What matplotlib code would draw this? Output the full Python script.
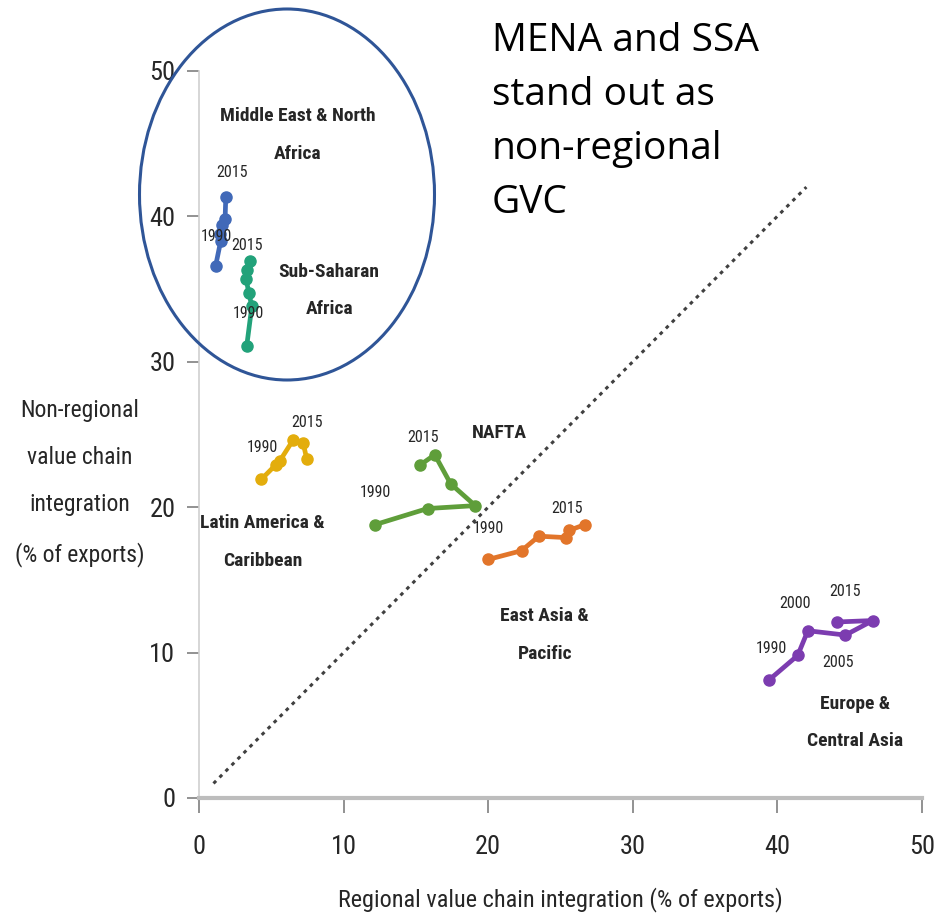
import matplotlib
matplotlib.use("Agg")
import matplotlib.pyplot as plt
from matplotlib.patches import Ellipse

narrow = ["Liberation Sans Narrow", "Roboto Condensed", "Open Sans Condensed",
          "Roboto", "DejaVu Sans"]
plt.rcParams["font.family"] = narrow

# regional vs non-regional value chain integration, 1990 -> 2015
mena_x = [1.15, 1.5, 1.45, 1.6, 1.8, 1.85]
mena_y = [36.6, 38.3, 38.8, 39.4, 39.8, 41.3]

ssa_x = [3.3, 3.65, 3.45, 3.25, 3.35, 3.55]
ssa_y = [31.1, 33.8, 34.7, 35.7, 36.3, 36.9]

lac_x = [4.3, 5.3, 5.6, 6.5, 7.2, 7.45]
lac_y = [21.9, 22.9, 23.2, 24.6, 24.4, 23.3]

nafta_x = [12.2, 15.8, 19.1, 17.4, 16.3, 15.3]
nafta_y = [18.8, 19.9, 20.1, 21.6, 23.6, 22.9]

eap_x = [20.0, 22.3, 23.5, 25.4, 25.6, 26.7]
eap_y = [16.4, 17.0, 18.0, 17.9, 18.4, 18.8]

eca_x = [39.4, 41.4, 42.1, 44.7, 46.6, 44.1]
eca_y = [8.1, 9.8, 11.5, 11.2, 12.2, 12.1]

diag = [1, 42]

series = [
    (mena_x, mena_y, "#4169b8"),
    (ssa_x, ssa_y, "#22a27a"),
    (lac_x, lac_y, "#e3ad0c"),
    (nafta_x, nafta_y, "#5f9e3a"),
    (eap_x, eap_y, "#e2752a"),
    (eca_x, eca_y, "#7c3cb0"),
]

region_labels = [
    ("Middle East & North\nAfrica", 6.85, 45.6),
    ("Sub-Saharan\nAfrica", 9.0, 34.9),
    ("NAFTA", 20.8, 25.1),
    ("Latin America &\nCaribbean", 4.4, 17.6),
    ("East Asia &\nPacific", 23.9, 11.2),
    ("Europe &\nCentral Asia", 45.4, 5.2),
]

year_labels = [
    ("2015", 2.3, 43.0), ("1990", 1.2, 38.6),
    ("2015", 3.3, 38.0), ("1990", 3.4, 33.3),
    ("1990", 4.4, 24.1), ("2015", 7.5, 25.8),
    ("1990", 12.2, 21.0), ("2015", 15.5, 24.8),
    ("1990", 20.0, 18.5), ("2015", 25.45, 19.9),
    ("1990", 39.6, 10.3), ("2000", 41.2, 13.4),
    ("2015", 44.7, 14.2), ("2005", 44.2, 9.3),
]

fig = plt.figure(figsize=(9.38, 9.22), dpi=100)
ax = fig.add_axes([0.2122, 0.1345, 0.7708, 0.7888])

ax.plot(diag, diag, color="#404040", lw=2.2, linestyle=(0, (1.2, 1.6)))

for xs, ys, c in series:
    ax.plot(xs, ys, color=c, lw=3.4, marker="o", markersize=8, solid_capstyle="round")

for txt, x, y in region_labels:
    ax.text(x, y, txt, ha="center", va="center", fontsize=14, fontweight="bold",
            color="#262626", linespacing=2.4)

for txt, x, y in year_labels:
    ax.text(x, y, txt, ha="center", va="center", fontsize=11.5, color="#262626")

ax.set_xlim(0, 50)
ax.set_ylim(0, 50)
ax.set_xticks(range(0, 51, 10))
ax.set_yticks(range(0, 51, 10))
ax.tick_params(axis="both", labelsize=19, colors="#262626")
ax.tick_params(axis="x", length=11, width=1.2, color="#7f7f7f", pad=16)
ax.tick_params(axis="y", length=9, width=1.2, color="#7f7f7f", pad=8)

for s in ["top", "right"]:
    ax.spines[s].set_visible(False)
ax.spines["left"].set_color("#d0d0d0")
ax.spines["left"].set_linewidth(1.2)
ax.spines["bottom"].set_color("#bdbdbd")
ax.spines["bottom"].set_linewidth(3)

ax.set_xlabel("Regional value chain integration (% of exports)", fontsize=17.5,
              color="#262626", labelpad=20)
fig.text(0.085, 1 - 483 / 922, "Non-regional\nvalue chain\nintegration\n(% of exports)",
         ha="center", va="center", fontsize=17, color="#262626", linespacing=2.35)

# highlight ring around the two African regions
ring = Ellipse((287 / 938, 1 - 194.5 / 922), 295 / 938, 371 / 922,
               transform=fig.transFigure, fill=False, edgecolor="#2f5597", lw=2.2)
fig.add_artist(ring)

fig.text(492 / 938, 1 - 22 / 922, "MENA and SSA\nstand out as\nnon-regional\nGVC",
         ha="left", va="top", fontsize=28, family=["Open Sans", "DejaVu Sans"],
         color="black", linespacing=1.55)

fig.savefig("out.png", dpi=100)
